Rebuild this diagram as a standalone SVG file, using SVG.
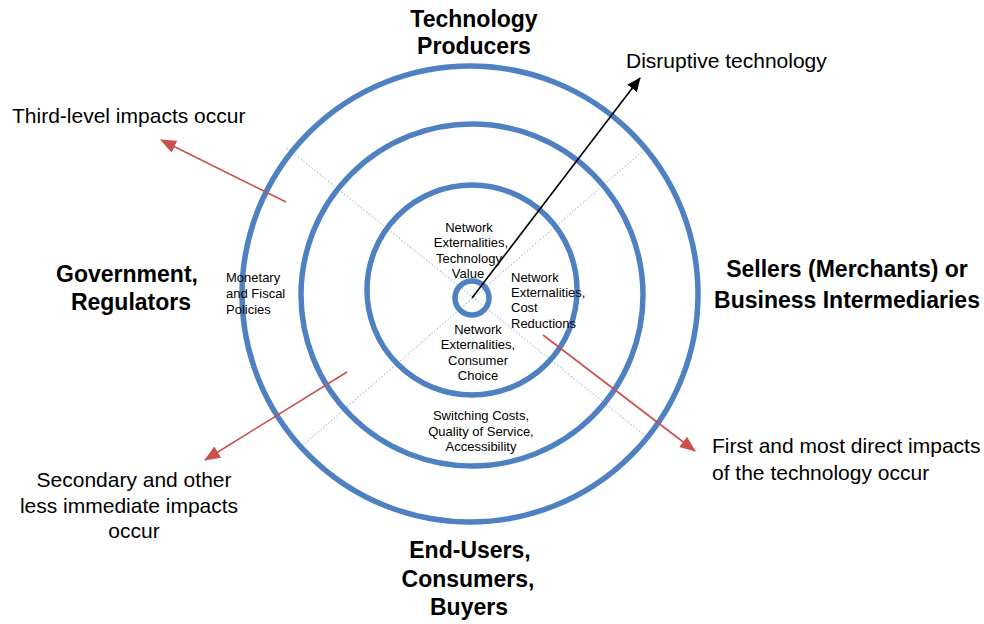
<svg xmlns="http://www.w3.org/2000/svg" width="984" height="624" viewBox="0 0 984 624">
<defs>
<style>
.ring{fill:none;stroke:#4f81c2;stroke-width:5.5}
.dot{stroke:#7fa6dc;stroke-width:1;stroke-dasharray:1.5 2;fill:none}
.red{stroke:#c9504c;stroke-width:1.6;fill:none}
.blk{stroke:#000;stroke-width:1.6;fill:none}
.b{font-family:"Liberation Sans",Arial,sans-serif;font-weight:bold;font-size:23px;fill:#000}
.r{font-family:"Liberation Sans",Arial,sans-serif;font-size:21px;fill:#000}
.s{font-family:"Liberation Sans",Arial,sans-serif;font-size:13px;fill:#000}
.m{text-anchor:middle}
</style>
<marker id="ah-red" markerWidth="16" markerHeight="14" refX="15" refY="7" orient="auto" markerUnits="userSpaceOnUse" viewBox="0 0 16 14">
<path d="M0,0.5 L16,7 L0,13.5 z" fill="#c9504c"/>
</marker>
<marker id="ah-blk" markerWidth="14" markerHeight="14" refX="13" refY="7" orient="auto" markerUnits="userSpaceOnUse" viewBox="0 0 14 14">
<path d="M0,1 L14,7 L0,13 z" fill="#000"/>
</marker>
</defs>
<rect width="984" height="624" fill="#fff"/>

<g id="dotted-axes">
<line class="dot" x1="287" y1="148" x2="648" y2="438"/>
<line class="dot" x1="302" y1="446" x2="645" y2="149"/>
</g>

<g id="outer-ring"><circle class="ring" cx="470" cy="294" r="228"/></g>
<g id="middle-ring"><circle class="ring" cx="472" cy="295" r="171"/></g>
<g id="inner-ring"><circle class="ring" cx="472" cy="290" r="105"/></g>
<g id="core"><circle class="ring" cx="472" cy="298" r="17"/></g>

<g id="connectors">
<line class="blk" x1="472" y1="298" x2="640" y2="78" marker-end="url(#ah-blk)"/>
<line class="red" x1="286" y1="202" x2="161" y2="140" marker-end="url(#ah-red)"/>
<line class="red" x1="347" y1="372" x2="205" y2="460" marker-end="url(#ah-red)"/>
<line class="red" x1="543" y1="335" x2="695" y2="451" marker-end="url(#ah-red)"/>
</g>

<g id="label-tech-producers">
<text class="b m" x="474" y="27">Technology</text>
<text class="b m" x="474" y="54">Producers</text>
</g>
<g id="label-government">
<text class="b m" x="127" y="282">Government,</text>
<text class="b m" x="131" y="310">Regulators</text>
</g>
<g id="label-sellers">
<text class="b m" x="847" y="277">Sellers (Merchants) or</text>
<text class="b m" x="847" y="308">Business Intermediaries</text>
</g>
<g id="label-end-users">
<text class="b m" x="470" y="558">End-Users,</text>
<text class="b m" x="468" y="587">Consumers,</text>
<text class="b m" x="469" y="615">Buyers</text>
</g>

<g id="label-disruptive"><text class="r" x="626" y="68">Disruptive technology</text></g>
<g id="label-third"><text class="r" x="12" y="123">Third-level impacts occur</text></g>
<g id="label-secondary">
<text class="r m" x="134" y="487">Secondary and other</text>
<text class="r m" x="129" y="513">less immediate impacts</text>
<text class="r m" x="134" y="538">occur</text>
</g>
<g id="label-first">
<text class="r" x="712" y="453">First and most direct impacts</text>
<text class="r" x="712" y="480">of the technology occur</text>
</g>

<g id="label-tech-value">
<text class="s m" x="469" y="232">Network</text>
<text class="s m" x="471" y="247">Externalities,</text>
<text class="s m" x="469" y="263">Technology</text>
<text class="s m" x="468" y="278">Value</text>
</g>
<g id="label-cost">
<text class="s" x="511" y="282">Network</text>
<text class="s" x="511" y="297">Externalities,</text>
<text class="s" x="511" y="312">Cost</text>
<text class="s" x="511" y="328">Reductions</text>
</g>
<g id="label-consumer-choice">
<text class="s m" x="478" y="334">Network</text>
<text class="s m" x="478" y="349">Externalities,</text>
<text class="s m" x="478" y="365">Consumer</text>
<text class="s m" x="478" y="380">Choice</text>
</g>
<g id="label-switching">
<text class="s m" x="481" y="420">Switching Costs,</text>
<text class="s m" x="481" y="436">Quality of Service,</text>
<text class="s m" x="481" y="451">Accessibility</text>
</g>
<g id="label-monetary">
<text class="s" x="226" y="282">Monetary</text>
<text class="s" x="226" y="298">and Fiscal</text>
<text class="s" x="226" y="314">Policies</text>
</g>
</svg>
